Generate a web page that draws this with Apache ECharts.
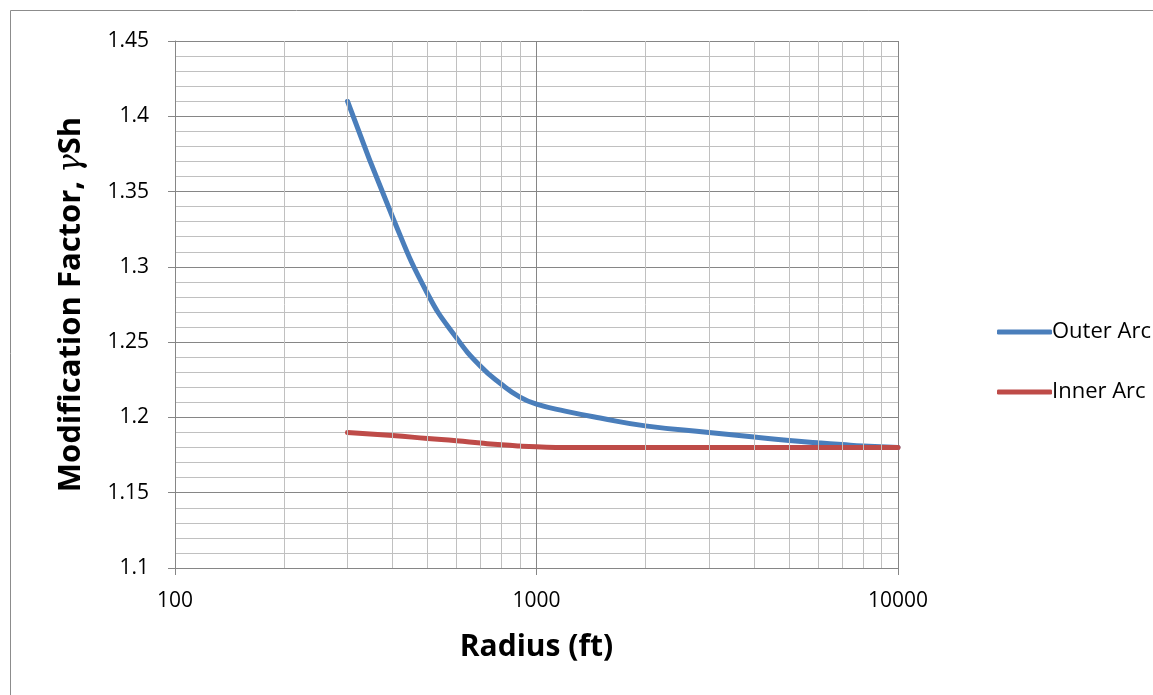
<!DOCTYPE html>
<html>
<head>
<meta charset="utf-8">
<script src="https://cdn.jsdelivr.net/npm/echarts@6/dist/echarts.min.js"></script>
<style>
  html, body { margin: 0; padding: 0; background: #fff; }
  #chart { width: 1153px; height: 695px; }
</style>
</head>
<body>
<div id="chart"></div>
<script>
const radius = [300, 400, 500, 600, 700, 800, 900, 1000, 1200, 1500, 2000, 3000, 4000, 5000, 6000, 7000, 8000, 10000]
const outerArc = [1.41, 1.333, 1.282, 1.253, 1.234, 1.222, 1.2135, 1.2088, 1.2042, 1.1996, 1.1944, 1.19, 1.187, 1.1847, 1.1832, 1.182, 1.181, 1.18]
const innerArc = [1.19, 1.188, 1.186, 1.1845, 1.183, 1.1818, 1.181, 1.1805, 1.18, 1.18, 1.18, 1.18, 1.18, 1.18, 1.18, 1.18, 1.18, 1.18]
const minorRadius = [200, 300, 400, 500, 600, 700, 800, 900, 2000, 3000, 4000, 5000, 6000, 7000, 8000, 9000]

const font = '"Open Sans", sans-serif'

function pairs(xs, ys) {
  return xs.map((x, i) => [x, ys[i]])
}

const chart = echarts.init(document.getElementById('chart'))

chart.setOption({
  animation: false,
  textStyle: { fontFamily: font },
  graphic: [
    {
      type: 'rect',
      shape: { x: 10.5, y: 10.5, width: 1300, height: 1000 },
      style: { fill: 'none', stroke: '#8c8c8c', lineWidth: 1 },
      silent: true
    }
  ],
  grid: {
    left: 175,
    top: 41,
    right: 255,
    bottom: 127,
    outerBoundsMode: 'none'
  },
  legend: {
    data: ['Outer Arc', 'Inner Arc'],
    orient: 'vertical',
    left: 992,
    top: 316,
    itemWidth: 55,
    itemHeight: 5,
    itemGap: 38,
    icon: 'roundRect',
    textStyle: { fontFamily: font, fontSize: 22, color: '#000', padding: [0, 0, 0, -5] }
  },
  xAxis: {
    type: 'log',
    logBase: 10,
    min: 100,
    max: 10000,
    name: 'Radius (ft)',
    nameLocation: 'middle',
    nameGap: 64,
    nameTextStyle: { fontFamily: font, fontSize: 30, fontWeight: 'bold', color: '#000' },
    axisLine: { lineStyle: { color: '#868686', width: 1 } },
    axisTick: { show: true, length: 7, lineStyle: { color: '#868686' } },
    axisLabel: { fontSize: 21, color: '#000', margin: 23, formatter: v => String(Math.round(v)) },
    splitLine: { show: true, lineStyle: { color: '#868686', width: 1 } },
    minorTick: { show: false },
    minorSplitLine: { show: false }
  },
  yAxis: {
    type: 'value',
    min: 1.1,
    max: 1.45,
    interval: 0.05,
    name: 'Modification Factor, {g|γ}Sh',
    nameLocation: 'middle',
    nameGap: 88,
    nameTextStyle: {
      fontFamily: font,
      fontSize: 31,
      fontWeight: 'bold',
      color: '#000',
      rich: {
        g: { fontFamily: '"DejaVu Serif", serif', fontStyle: 'italic', fontWeight: 'normal', fontSize: 31, color: '#000' }
      }
    },
    axisLine: { show: true, lineStyle: { color: '#868686', width: 1 } },
    axisTick: { show: true, length: 7, lineStyle: { color: '#868686' } },
    axisLabel: { fontSize: 21, color: '#000', margin: 26 },
    splitLine: { show: true, lineStyle: { color: '#868686', width: 1 } },
    minorTick: { show: false, splitNumber: 5 },
    minorSplitLine: { show: true, lineStyle: { color: '#c0c0c0', width: 1 } }
  },
  series: [
    {
      name: 'minor grid',
      type: 'line',
      data: [],
      silent: true,
      z: 1,
      markLine: {
        silent: true,
        symbol: 'none',
        label: { show: false },
        lineStyle: { color: '#c0c0c0', width: 1, type: 'solid' },
        data: minorRadius.map(r => ({ xAxis: r }))
      }
    },
    {
      name: 'Outer Arc',
      type: 'line',
      data: pairs(radius, outerArc),
      smooth: 0.5,
      showSymbol: false,
      z: 3,
      itemStyle: { color: '#4a7ebb' },
      lineStyle: { color: '#4a7ebb', width: 5, cap: 'round' }
    },
    {
      name: 'Inner Arc',
      type: 'line',
      data: pairs(radius, innerArc),
      smooth: 0.5,
      showSymbol: false,
      z: 3,
      itemStyle: { color: '#be4b48' },
      lineStyle: { color: '#be4b48', width: 5, cap: 'round' }
    }
  ]
})
</script>
</body>
</html>
